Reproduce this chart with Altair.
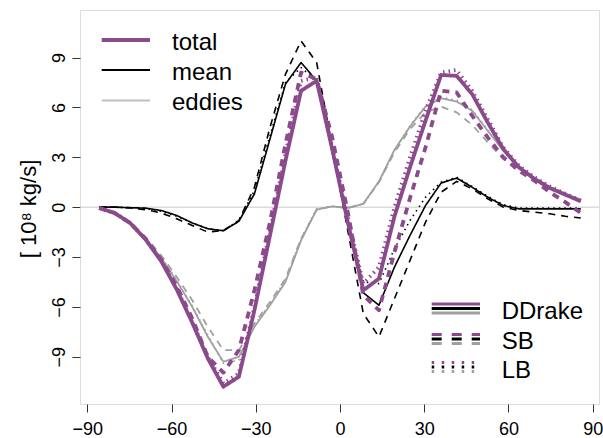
import altair as alt
import pandas as pd

FONT = "Liberation Sans"
PURPLE = "#8b4a8c"
BLACK = "#000000"
GRAY = "#a0a0a0"

lats = [-85.76, -80.27, -74.74, -69.21, -63.68, -58.14, -52.61, -47.07, -41.54, -36.01,
        -30.47, -24.94, -19.41, -13.87, -8.31, -2.77, 2.77, 8.31, 13.87, 19.41,
        24.94, 30.47, 36.01, 41.54, 47.07, 52.61, 58.14, 63.68, 69.21, 74.74, 80.27, 85.76]

total_ddrake = [-0.05, -0.35, -0.95, -1.95, -3.25, -4.95, -6.95, -9.1, -10.8, -10.2,
                -6.2, -1.7, 2.8, 7.0, 7.6, 3.5, -0.9, -5.0, -4.3, -0.55,
                2.4, 5.2, 7.95, 7.9, 6.8, 5.1, 3.5, 2.4, 1.7, 1.15, 0.75, 0.35]
total_sb = [-0.05, -0.35, -0.95, -1.9, -3.15, -4.75, -6.7, -9.0, -9.95, -8.6,
            -5.0, -0.9, 3.8, 8.1, 7.7, 4.2, -0.3, -5.3, -6.2, -2.7,
            0.55, 3.6, 7.0, 6.9, 5.5, 4.2, 3.0, 2.2, 1.6, 0.9, 0.3, -0.35]
total_lb = [-0.05, -0.35, -0.95, -1.95, -3.2, -4.9, -6.9, -9.0, -10.6, -10.0,
            -6.0, -1.4, 3.2, 7.6, 7.8, 3.6, -0.6, -4.6, -3.6, 0.0,
            3.0, 5.8, 8.1, 8.25, 7.0, 5.3, 3.6, 2.5, 1.8, 1.25, 0.8, 0.4]

mean_ddrake = [0.0, 0.0, -0.03, -0.06, -0.2, -0.5, -0.95, -1.3, -1.42, -0.85,
               0.8, 4.1, 7.4, 8.7, 7.6, 3.3, -0.9, -5.15, -5.9, -3.6,
               -1.7, 0.1, 1.45, 1.75, 1.2, 0.6, 0.1, -0.1, -0.1, -0.1, -0.1, -0.1]
mean_sb = [0.0, 0.0, -0.05, -0.15, -0.35, -0.7, -1.1, -1.5, -1.4, -0.8,
           1.2, 4.8, 8.0, 10.0, 8.7, 3.6, -1.4, -6.4, -7.8, -5.5,
           -3.2, -0.9, 0.9, 1.55, 1.1, 0.5, 0.0, -0.2, -0.3, -0.4, -0.55, -0.65]
mean_lb = [0.0, 0.0, -0.03, -0.08, -0.25, -0.55, -0.95, -1.3, -1.4, -0.8,
           1.0, 4.3, 7.5, 8.4, 7.6, 3.3, -0.8, -4.5, -4.6, -2.5,
           -0.8, 0.6, 1.5, 1.8, 1.25, 0.65, 0.15, -0.05, -0.05, -0.05, -0.05, -0.05]

eddies_ddrake = [-0.05, -0.35, -0.9, -1.9, -3.05, -4.45, -6.0, -7.8, -9.3, -9.0,
                 -7.2, -5.9, -4.5, -2.0, -0.15, 0.05, -0.05, 0.2, 1.55, 3.45,
                 4.85, 6.05, 6.55, 6.35, 5.8, 4.6, 3.4, 2.45, 1.75, 1.2, 0.8, 0.45]
eddies_sb = [-0.05, -0.35, -0.9, -1.8, -2.9, -4.2, -5.6, -7.2, -8.6, -8.6,
             -7.0, -5.7, -4.3, -1.9, -0.15, 0.05, -0.05, 0.2, 1.5, 3.3,
             4.7, 5.7, 6.05, 5.7, 4.95, 3.9, 2.9, 2.3, 1.7, 1.2, 0.8, 0.35]
eddies_lb = [-0.05, -0.35, -0.92, -1.9, -3.0, -4.4, -5.95, -7.7, -9.4, -9.2,
             -7.1, -5.8, -4.4, -1.9, -0.1, 0.05, -0.05, 0.2, 1.5, 3.4,
             4.9, 6.1, 6.6, 6.45, 5.85, 4.65, 3.45, 2.5, 1.8, 1.25, 0.85, 0.45]

models = ["DDrake", "SB", "LB"]
x_ticks = [-90, -60, -30, 0, 30, 60, 90]
y_ticks = [-9, -6, -3, 0, 3, 6, 9]

def frame(series):
    rows = []
    for m, vals in zip(models, series):
        for la, v in zip(lats, vals):
            rows.append({"lat": la, "value": v, "model": m})
    return pd.DataFrame(rows)

df_total = frame([total_ddrake, total_sb, total_lb])
df_mean = frame([mean_ddrake, mean_sb, mean_lb])
df_eddies = frame([eddies_ddrake, eddies_sb, eddies_lb])

xscale = alt.Scale(domain=[-92.6, 92.25], nice=False, zero=False)
yscale = alt.Scale(domain=[-11.84, 11.86], nice=False, zero=False)

xaxis = alt.Axis(values=x_ticks, title=None, grid=False, domain=False, tickSize=8,
                 tickColor="#333333", labelFontSize=18, labelFont=FONT, labelColor="black",
                 labelPadding=8)
yaxis = alt.Axis(values=y_ticks, title=None, grid=False, domain=False, tickSize=8,
                 tickColor="#333333", labelFontSize=18, labelFont=FONT, labelColor="black",
                 labelAngle=270, labelAlign="center", labelBaseline="alphabetic",
                 labelPadding=8)

def lines(df, color, width, dashes):
    return alt.Chart(df).mark_line(color=color, strokeWidth=width, strokeCap="butt",
                                   strokeJoin="round").encode(
        x=alt.X("lat:Q", scale=xscale, axis=xaxis),
        y=alt.Y("value:Q", scale=yscale, axis=yaxis),
        strokeDash=alt.StrokeDash("model:N", scale=alt.Scale(domain=models, range=dashes),
                                  legend=None),
        detail="model:N",
    )

one = pd.DataFrame({"k": [0]})

zero = alt.Chart(pd.DataFrame({"z": [0]})).mark_rule(color="#c8c8c8", strokeWidth=1).encode(
    y=alt.Y("z:Q", scale=yscale, axis=yaxis))

eddies_layer = lines(df_eddies, GRAY, 1.8, [[1, 0], [7, 6], [1.5, 4]])
mean_layer = lines(df_mean, BLACK, 1.6, [[1, 0], [7, 6], [1.5, 4]])
total_layer = lines(df_total, PURPLE, 3.8, [[1, 0], [13, 10], [3.5, 11]])

def seg(x1, x2, y, color, width, dash=None):
    kw = dict(color=color, strokeWidth=width, strokeCap="butt")
    if dash:
        kw["strokeDash"] = dash
    return alt.Chart(one).mark_rule(**kw).encode(
        x=alt.value(x1), x2=alt.value(x2), y=alt.value(y))

def label(x, y, txt, size=24, angle=0, align="left", baseline="alphabetic"):
    kw = dict(text=txt, font=FONT, fontSize=size, color="black", align=align,
              baseline=baseline)
    if angle:
        kw["angle"] = angle
    return alt.Chart(one).mark_text(**kw).encode(x=alt.value(x), y=alt.value(y))

legend_parts = [
    seg(21.7, 70, 30, PURPLE, 4), label(92, 40, "total"),
    seg(21.7, 70, 60, BLACK, 2), label(92, 70, "mean"),
    seg(21.7, 70, 90.5, "#c0c0c0", 2), label(92, 99.5, "eddies"),
]
rows = [(298.5, 308.5, "DDrake", None), (329, 338.5, "SB", [10, 10]), (357, 367.5, "LB", [2.5, 7.5])]
for yb, ytxt, name, dash in rows:
    legend_parts += [
        seg(351.7, 400, yb - 4.5, PURPLE, 3, dash),
        seg(351.7, 400, yb, BLACK, 3, dash),
        seg(351.7, 400, yb + 4.5, GRAY, 3, dash),
        label(421.7, ytxt, name),
    ]

ytitle = label(-51, 199, "[ 10\u2078 kg/s]", size=22, angle=270, align="center",
               baseline="middle")

chart = alt.layer(zero, eddies_layer, mean_layer, total_layer, *legend_parts, ytitle).properties(
    width=519, height=394,
    padding={"left": 80, "top": 10, "right": 4, "bottom": 34},
    autosize=alt.AutoSizeParams(type="none"),
).configure_view(stroke="#333333", strokeWidth=1).configure(background="white")

chart.save("out.html", embed_options={"renderer": "svg", "actions": False})
